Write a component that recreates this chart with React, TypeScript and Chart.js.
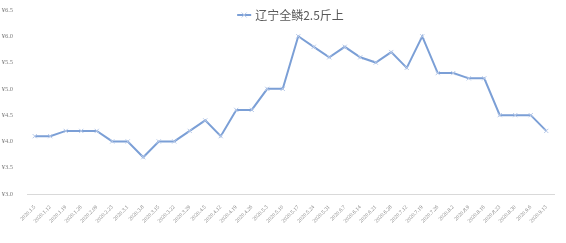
import React, { useEffect, useRef } from "react";
import { Chart, registerables } from "chart.js";

Chart.register(...registerables);

const seriesName = "辽宁全鳞2.5斤上";

const dates = [
  "2020.1.5", "2020.1.12", "2020.1.19", "2020.1.26", "2020.2.09", "2020.2.23",
  "2020.3.1", "2020.3.8", "2020.3.15", "2020.3.22", "2020.3.29", "2020.4.5",
  "2020.4.12", "2020.4.19", "2020.4.26", "2020.5.3", "2020.5.10", "2020.5.17",
  "2020.5.24", "2020.5.31", "2020.6.7", "2020.6.14", "2020.6.21", "2020.6.28",
  "2020.7.12", "2020.7.19", "2020.7.26", "2020.8.2", "2020.8.9", "2020.8.16",
  "2020.8.23", "2020.8.30", "2020.9.6", "2020.9.13",
];

const prices = [
  4.1, 4.1, 4.2, 4.2, 4.2, 4.0,
  4.0, 3.7, 4.0, 4.0, 4.2, 4.4,
  4.1, 4.6, 4.6, 5.0, 5.0, 6.0,
  5.8, 5.6, 5.8, 5.6, 5.5, 5.7,
  5.4, 6.0, 5.3, 5.3, 5.2, 5.2,
  4.5, 4.5, 4.5, 4.2,
];

const yMin = 3.0;
const yMax = 6.5;
const yStep = 0.5;

const LINE_COLOR = "#7b9fd6";
const MARKER_COLOR = "#b7c9e8";
const TEXT_COLOR = "#7f7f7f";
const LEGEND_FONT = "12px 'Noto Sans CJK SC', 'Noto Sans', sans-serif";

// Legend drawn inside the top of the plot area: a short line with a cross marker, then the series name.
const insideLegend = {
  id: "insideLegend",
  afterDraw(chart: any) {
    const { ctx, chartArea } = chart;
    const label = chart.data.datasets[0].label as string;
    ctx.save();
    ctx.font = LEGEND_FONT;
    const glyphW = 14;
    const gap = 4;
    const textW = ctx.measureText(label).width;
    const total = glyphW + gap + textW;
    const cx = (chartArea.left + chartArea.right) / 2;
    const x0 = cx - total / 2;
    const y = chartArea.top + 5;

    ctx.strokeStyle = LINE_COLOR;
    ctx.lineWidth = 2;
    ctx.beginPath();
    ctx.moveTo(x0, y);
    ctx.lineTo(x0 + glyphW, y);
    ctx.stroke();

    ctx.strokeStyle = MARKER_COLOR;
    ctx.lineWidth = 1;
    const mx = x0 + glyphW / 2;
    ctx.beginPath();
    ctx.moveTo(mx - 2.5, y - 2.5);
    ctx.lineTo(mx + 2.5, y + 2.5);
    ctx.moveTo(mx + 2.5, y - 2.5);
    ctx.lineTo(mx - 2.5, y + 2.5);
    ctx.stroke();

    ctx.fillStyle = "#595959";
    ctx.textBaseline = "middle";
    ctx.textAlign = "left";
    ctx.fillText(label, x0 + glyphW + gap, y);
    ctx.restore();
  },
};

export default function App() {
  const canvasRef = useRef<HTMLCanvasElement | null>(null);

  useEffect(() => {
    document.body.style.margin = "0";
    const canvas = canvasRef.current;
    if (!canvas) return;

    const chart = new Chart(canvas, {
      type: "line",
      data: {
        labels: dates,
        datasets: [
          {
            label: seriesName,
            data: prices,
            borderColor: LINE_COLOR,
            backgroundColor: LINE_COLOR,
            borderWidth: 2,
            tension: 0,
            pointStyle: "crossRot",
            pointRadius: 3,
            pointBorderColor: MARKER_COLOR,
            pointBorderWidth: 1,
          },
        ],
      },
      options: {
        animation: false,
        responsive: false,
        maintainAspectRatio: false,
        layout: { padding: { top: 10, right: 12, left: 0, bottom: 0 } },
        plugins: {
          legend: { display: false },
          tooltip: { enabled: false },
        },
        scales: {
          x: {
            offset: true,
            grid: { display: false },
            border: { display: true, color: "#d9d9d9", width: 1 },
            ticks: {
              autoSkip: false,
              minRotation: 45,
              maxRotation: 45,
              padding: 2,
              color: TEXT_COLOR,
              font: { family: "'Liberation Serif', serif", size: 5.5 },
            },
            afterFit: (s: any) => {
              s.height = 49;
            },
          },
          y: {
            min: yMin,
            max: yMax,
            grid: { display: false },
            border: { display: false },
            ticks: {
              stepSize: yStep,
              padding: 6,
              color: TEXT_COLOR,
              font: { family: "'Liberation Serif', serif", size: 6.5 },
              callback: (v: any) => "¥" + Number(v).toFixed(1),
            },
            afterFit: (s: any) => {
              s.width = 27;
            },
          },
        },
      },
      plugins: [insideLegend],
    });

    return () => chart.destroy();
  }, []);

  return (
    <div style={{ position: "relative", width: 566, height: 243 }}>
      <canvas ref={canvasRef} width={566} height={243} style={{ display: "block" }} />
    </div>
  );
}
